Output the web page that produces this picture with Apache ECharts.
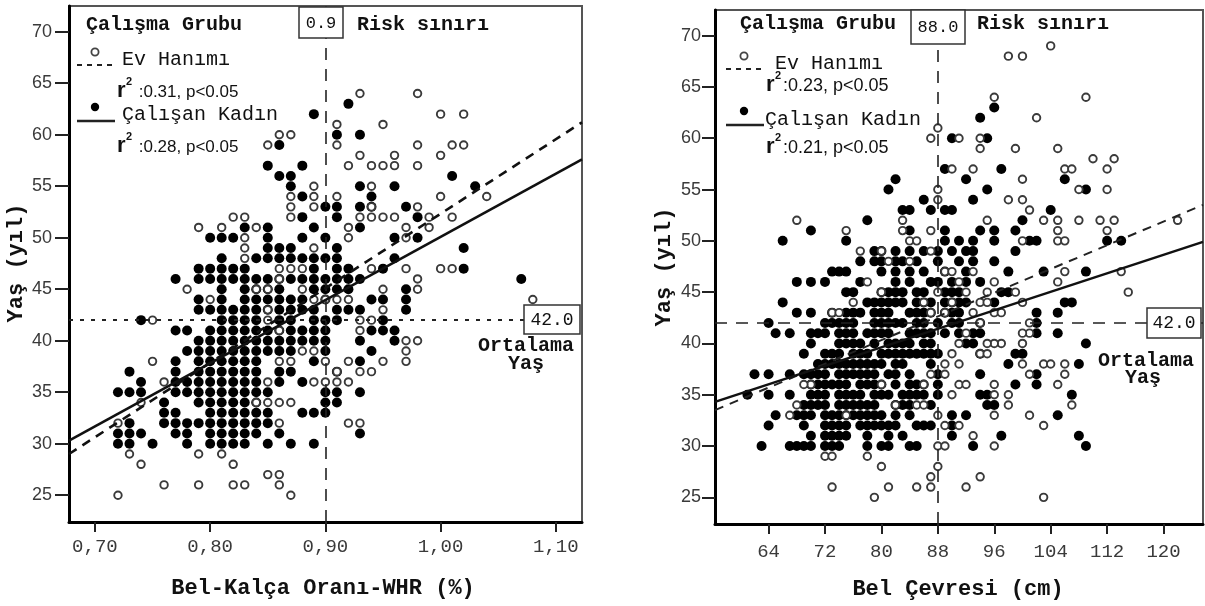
<!DOCTYPE html>
<html><head><meta charset="utf-8">
<script src="https://cdn.jsdelivr.net/npm/echarts@6/dist/echarts.min.js"></script>
<style>html,body{margin:0;padding:0;background:#fff}#c{width:1205px;height:606px}</style>
</head><body><div id="c"></div>
<script>
// ---------- DATA ----------
const whrTicks = [0.70, 0.80, 0.90, 1.00, 1.10];
const waistTicks = [64, 72, 80, 88, 96, 104, 112, 120];
const ageTicks = [25, 30, 35, 40, 45, 50, 55, 60, 65, 70];
const riskWHR = 0.9;
const riskWaist = 88.0;
const meanAge = 42.0;

// regression fits [intercept, slope]
const regWhrHousewife = [-20.0, 72.33];
const regWhrWorking = [-11.24, 61.32];
const regWaistHousewife = [17.2, 0.289];
const regWaistWorking = [21.59, 0.2254];

// Ev Hanımı (housewife) - WHR vs age
const whrHousewife = [
[0.72,25],[0.72,32],[0.73,29],[0.74,28],[0.74,34],[0.75,38],[0.75,42],[0.76,26],[0.76,36],[0.78,45],
[0.79,29],[0.79,26],[0.79,51],[0.80,44],[0.81,51],[0.81,29],[0.82,52],[0.82,28],[0.82,26],[0.83,52],
[0.83,50],[0.83,49],[0.83,48],[0.83,26],[0.84,51],[0.84,45],[0.84,34],[0.85,59],[0.85,45],[0.85,43],
[0.85,42],[0.85,36],[0.85,34],[0.85,27],[0.86,60],[0.86,47],[0.86,46],[0.86,41],[0.86,38],[0.86,34],
[0.86,32],[0.86,27],[0.86,26],[0.87,60],[0.87,54],[0.87,53],[0.87,52],[0.87,47],[0.87,38],[0.87,34],
[0.87,25],[0.88,47],[0.88,45],[0.88,39],[0.89,55],[0.89,54],[0.89,53],[0.89,49],[0.89,44],[0.89,39],
[0.89,36],[0.90,44],[0.90,38],[0.90,36],[0.91,61],[0.91,59],[0.91,54],[0.91,44],[0.91,37],[0.91,36],
[0.92,57],[0.92,51],[0.92,50],[0.92,44],[0.92,38],[0.92,36],[0.92,32],[0.93,64],[0.93,58],[0.93,52],
[0.93,42],[0.93,41],[0.93,37],[0.93,32],[0.94,57],[0.94,55],[0.94,53],[0.94,52],[0.94,47],[0.94,42],
[0.94,37],[0.95,61],[0.95,57],[0.95,52],[0.95,45],[0.95,43],[0.95,38],[0.96,58],[0.96,57],[0.96,52],
[0.97,51],[0.97,50],[0.97,47],[0.97,40],[0.97,39],[0.97,38],[0.98,64],[0.98,59],[0.98,57],[0.98,53],
[0.98,46],[0.98,45],[0.98,40],[0.99,52],[0.99,51],[1.00,62],[1.00,58],[1.00,54],[1.00,47],[1.01,52],
[1.01,47],[1.01,59],[1.02,62],[1.02,59],[1.04,54],[1.08,44]
];

// Çalışan Kadın (working) - WHR rows: [age, WHR x100 list]
const whrWorkingRows = [
[30,[72,73,75,78,80,81,82,83,85,87,89]],
[31,[72,73,74,77,78,80,81,82,83,84,86,93]],
[32,[73,76,77,78,79,80,81,82,83,84,85]],
[33,[76,77,80,81,82,83,84,85,88,89,90]],
[34,[76,79,80,81,82,83,84,90,91]],
[35,[72,73,74,77,78,79,80,81,82,83,84,85,90,91,93]],
[36,[74,77,78,79,80,81,82,83,84,86,88]],
[37,[73,77,79,80,81,82,83,84,86,87,91]],
[38,[77,79,80,81,82,83,84,89,93]],
[39,[78,79,80,81,82,83,84,85,86,87,90,94]],
[40,[79,80,81,82,83,84,85,86,87,88,89,90,93,96]],
[41,[77,78,80,81,82,83,84,85,86,87,88,89,90,94,95,96]],
[42,[74,81,82,83,84,86,87,89,90,91,95]],
[43,[79,80,81,82,83,84,85,86,87,88,89,91,92,93,97]],
[44,[79,81,83,84,85,86,87,88,90,94,95,97]],
[45,[81,83,84,85,86,89,90,91,92,97]],
[46,[77,79,80,81,82,83,84,85,86,87,88,89,90,91,92,93,107]],
[47,[79,80,81,82,83,89,91,92,95,102]],
[48,[81,84,85,86,87,88,89,90,91,96]],
[49,[85,86,87,91,102]],
[50,[80,81,82,85,88,90,96,98]],
[51,[83,85,89,93]],
[52,[88,91,98]],
[53,[90,91,93,94,97]],
[54,[88,94]],
[55,[87,93,96,103]],
[56,[86,87,101]],
[57,[85,88]],
[59,[86]],
[60,[91,93]],
[62,[89]],
[63,[92]]
];

// Ev Hanımı - waist (cm) vs age
const waistHousewife = [
[68,52],[75,51],[67,33],[68,34],[70,36],[72,29],[73,29],[73,26],[78,29],[80,28],[79,25],[81,26],
[85,26],[87,26],[87,27],[88,28],[88,30],[89,30],[88,33],[89,32],[91,32],[92,26],[94,27],[93,31],
[96,30],[96,33],[96,35],[98,34],[98,35],[101,33],[103,32],[103,25],[103,38],[104,38],[106,38],[106,37],
[105,36],[107,34],[100,38],[101,37],[100,40],[101,41],[100,41],[101,42],[100,44],[97,40],[96,40],[105,46],
[106,47],[115,45],[114,47],[122,52],[108,52],[111,52],[113,52],[112,51],[103,52],[105,52],[105,51],[105,50],
[106,50],[101,53],[98,54],[100,54],[100,50],[95,52],[96,46],[99,59],[100,56],[102,62],[98,68],[100,68],
[104,69],[96,64],[109,64],[105,59],[106,57],[107,57],[110,58],[113,58],[112,57],[112,55],[108,55],[91,60],
[93,57],[94,59],[94,60],[90,57],[87,60],[88,61],[88,55],[88,54],[87,51],[87,49],[83,52],[83,51],[84,50],
[85,50],[77,49],[78,46],[76,44],[80,49],[81,48],[80,45],[73,43],[74,43],[85,34],[86,34],[87,37],[89,37],
[91,38],[90,35],[91,36],[92,36],[92,41],[94,44],[95,44],[92,45],[91,46],[94,42],[86,44],[88,45],[87,43],
[89,43],[90,44],[93,43],[96,43],[97,43],[99,45],[95,40],[91,40],[94,39],[95,39],[84,48],[89,47],
[90,47],[93,47],[95,45],[69,36],[75,33],[82,34],[86,36],[80,36],[96,36],[90,39],[89,38]
];

// Çalışan Kadın - waist rows: [age, cm list]
const waistWorkingRows = [
[30,[63,67,68,69,70,72,73,74,78,80,81,84,85,93,109]],
[31,[70,72,73,74,75,78,81,83,90,97,108]],
[32,[64,69,72,73,74,75,77,78,79,80,81,82,85,86,87,90]],
[33,[65,68,69,70,72,73,74,75,76,77,78,79,80,82,84,90,92,105]],
[34,[69,70,71,72,74,75,76,77,78,79,82,83,84,87,95,96]],
[35,[61,64,67,70,71,72,74,75,76,77,79,80,81,83,84,85,86,88,94,95,107]],
[36,[70,71,72,73,74,75,77,78,79,80,82,84,85,86,88,99,102]],
[37,[62,64,67,69,70,71,72,74,75,76,77,78,79,81,82,84,88,94,102]],
[38,[71,72,73,74,75,76,77,78,79,80,82,83,87,98,108]],
[39,[69,72,73,74,76,77,78,80,81,82,83,84,85,86,87,88,94,99,100]],
[40,[70,74,75,76,77,79,81,82,83,84,86,87,92,93,109]],
[41,[65,67,70,71,72,74,75,76,78,79,80,81,84,85,86,87,89,91,93,94,102,105]],
[42,[64,72,73,74,75,76,79,80,81,82,83,85,86,88,90,91,94,102]],
[43,[68,70,73,75,76,77,79,80,81,84,85,86,87,89,90,91,102,105]],
[44,[66,78,79,80,81,82,83,85,86,87,89,90,91,92,96,106,107]],
[45,[75,76,80,81,82,83,85,86,89,90,91,97,98]],
[46,[68,70,72,77,82,84,87,88,90,92,94]],
[47,[73,74,75,80,82,84,86,89,92,98,103,109]],
[48,[77,79,80,82,83,85,88,91,93,96]],
[49,[79,80,82,84,86,88,90,92,93,99]],
[50,[66,75,89,91,93,96,101,102,112,114]],
[51,[70,84,89,94,96,99]],
[52,[78,100]],
[53,[83,84,87,89,90,104]],
[54,[86,93]],
[55,[81,95,109]],
[56,[82,92,106]],
[57,[89,97]],
[60,[90,95]],
[62,[94]],
[63,[96]]
];

// ---------- BUILD ----------
function expandRows(rows, scale) {
  const out = [];
  rows.forEach(([age, xs]) => xs.forEach(x => out.push([x / scale, age])));
  return out;
}
function regLine(reg, a, b) { return [[a, reg[0] + reg[1] * a], [b, reg[0] + reg[1] * b]]; }

const X1 = [0.6775, 1.1227], X2 = [56.4, 125.6], Y = [22.4, 72.5];
const MONO = '"Liberation Mono","DejaVu Sans Mono",monospace';
const SANS = '"Liberation Sans",Arial,sans-serif';

function yAxisDef(gi, margin, tickLen) {
  return {
    type: 'value', gridIndex: gi, min: Y[0], max: Y[1],
    axisLine: { show: true, lineStyle: { color: '#000', width: 3 } },
    axisTick: { show: true, customValues: ageTicks, length: tickLen, lineStyle: { color: '#222', width: 2 } },
    axisLabel: { customValues: ageTicks, margin: margin, fontFamily: SANS, fontSize: 18, color: '#3a3a3a' },
    splitLine: { show: false }
  };
}
function xAxisDef(gi, range, ticks, fmt, margin) {
  return {
    type: 'value', gridIndex: gi, min: range[0], max: range[1],
    axisLine: { show: true, onZero: false, lineStyle: { color: '#000', width: 3 } },
    axisTick: { show: true, customValues: ticks, length: 10, lineStyle: { color: '#222', width: 2 } },
    axisLabel: { customValues: ticks, margin: margin, fontFamily: MONO, fontSize: 19, color: '#3a3a3a', formatter: fmt },
    splitLine: { show: false }
  };
}

const openStyle = { color: '#fff', borderColor: '#3a3a3a', borderWidth: 1.9, opacity: 1 };
const filledStyle = { color: '#000', opacity: 1 };

function markLines(xv, xDash, yDash, yWidth) {
  return {
    silent: true, symbol: ['none', 'none'], label: { show: false }, animation: false,
    data: [
      { xAxis: xv, lineStyle: { type: xDash, color: '#222', width: 1.6 } },
      { yAxis: meanAge, lineStyle: { type: yDash, color: '#222', width: yWidth } }
    ]
  };
}

const series = [
  { type: 'scatter', xAxisIndex: 0, yAxisIndex: 0, z: 2, symbolSize: 10, itemStyle: filledStyle,
    data: expandRows(whrWorkingRows, 100), markLine: markLines(riskWHR, [12, 9], [4, 7], 2) },
  { type: 'scatter', xAxisIndex: 0, yAxisIndex: 0, z: 3, symbolSize: 7.5, itemStyle: openStyle, data: whrHousewife },
  { type: 'line', xAxisIndex: 0, yAxisIndex: 0, z: 5, symbol: 'none', data: regLine(regWhrHousewife, X1[0], X1[1]),
    lineStyle: { color: '#111', width: 2.6, type: [9, 7] } },
  { type: 'line', xAxisIndex: 0, yAxisIndex: 0, z: 5, symbol: 'none', data: regLine(regWhrWorking, X1[0], X1[1]),
    lineStyle: { color: '#111', width: 2.6 } },
  { type: 'scatter', xAxisIndex: 1, yAxisIndex: 1, z: 2, symbolSize: 10, itemStyle: filledStyle,
    data: expandRows(waistWorkingRows, 1), markLine: markLines(riskWaist, [12, 9], [12, 9], 1.6) },
  { type: 'scatter', xAxisIndex: 1, yAxisIndex: 1, z: 3, symbolSize: 7.5, itemStyle: openStyle, data: waistHousewife },
  { type: 'line', xAxisIndex: 1, yAxisIndex: 1, z: 5, symbol: 'none', data: regLine(regWaistHousewife, X2[0], X2[1]),
    lineStyle: { color: '#222', width: 2, type: [9, 7] } },
  { type: 'line', xAxisIndex: 1, yAxisIndex: 1, z: 5, symbol: 'none', data: regLine(regWaistWorking, X2[0], X2[1]),
    lineStyle: { color: '#111', width: 2.6 } }
];

function txt(text, x, y, font, align, extra) {
  return Object.assign({ type: 'text', z: 100, style: { text: text, x: x, y: y, font: font, fill: '#111', align: align || 'left', verticalAlign: 'middle' } }, extra || {});
}
function box(x, y, w, h) {
  return { type: 'rect', z: 99, shape: { x: x, y: y, width: w, height: h }, style: { fill: '#fff', stroke: '#333', lineWidth: 1.5 } };
}
function legendBlock(ox, oy) {
  return [
    { type: 'circle', z: 100, shape: { cx: ox + 18, cy: oy - 7, r: 3.6 }, style: { fill: '#fff', stroke: '#444', lineWidth: 1.8 } },
    { type: 'line', z: 100, shape: { x1: ox, y1: oy + 6, x2: ox + 36, y2: oy + 6 }, style: { stroke: '#222', lineWidth: 2, lineDash: [5, 5] } },
    { type: 'circle', z: 100, shape: { cx: ox + 18, cy: oy + 48, r: 4.2 }, style: { fill: '#000' } },
    { type: 'line', z: 100, shape: { x1: ox, y1: oy + 62, x2: ox + 38, y2: oy + 62 }, style: { stroke: '#222', lineWidth: 2.5 } }
  ];
}
function rsq(x, y, rest, size) {
  return [
    txt('r', x, y, 'bold 22px ' + SANS),
    txt('2', x + 9, y - 9, 'bold 11px ' + SANS),
    txt(rest, x + 17, y + 1, size + 'px ' + SANS)
  ];
}

const graphic = [
  // ----- left chart -----
  txt('Çalışma Grubu', 86, 25, 'bold 20px ' + MONO),
  box(299, 7, 44, 31), txt('0.9', 321, 23, '17px ' + MONO, 'center'),
  txt('Risk sınırı', 357, 25, 'bold 20px ' + MONO),
  ...legendBlock(77, 59),
  txt('Ev Hanımı', 122, 60, '20px ' + MONO),
  ...rsq(117, 91, ' :0.31, p<0.05', 17),
  txt('Çalışan Kadın', 122, 115, '20px ' + MONO),
  ...rsq(117, 146, ' :0.28, p<0.05', 17),
  box(524, 305, 56, 29), txt('42.0', 552, 320, '18px ' + MONO, 'center'),
  txt('Ortalama', 526, 346, 'bold 20px ' + MONO, 'center'),
  txt('Yaş', 526, 364, 'bold 20px ' + MONO, 'center'),
  txt('Bel-Kalça Oranı-WHR (%)', 323, 588, 'bold 22px ' + MONO, 'center'),
  txt('Yaş (yıl)', 16, 263, 'bold 22px ' + MONO, 'center', { rotation: Math.PI / 2, x: 0, y: 0, originX: 16, originY: 263 }),
  // ----- right chart -----
  txt('Çalışma Grubu', 740, 24, 'bold 20px ' + MONO),
  box(911, 10, 54, 34), txt('88.0', 938, 27, '17px ' + MONO, 'center'),
  txt('Risk sınırı', 977, 24, 'bold 20px ' + MONO),
  ...legendBlock(726, 63),
  txt('Ev Hanımı', 775, 64, '20px ' + MONO),
  ...rsq(766, 85, ':0.23, p<0.05', 18),
  txt('Çalışan Kadın', 765, 120, '20px ' + MONO),
  ...rsq(766, 147, ':0.21, p<0.05', 18),
  box(1147, 308, 54, 30), txt('42.0', 1174, 323, '18px ' + MONO, 'center'),
  txt('Ortalama', 1146, 361, 'bold 20px ' + MONO, 'center'),
  txt('Yaş', 1143, 378, 'bold 20px ' + MONO, 'center'),
  txt('Bel Çevresi (cm)', 958, 589, 'bold 22px ' + MONO, 'center'),
  txt('Yaş (yıl)', 664, 267, 'bold 22px ' + MONO, 'center', { rotation: Math.PI / 2, x: 0, y: 0, originX: 664, originY: 267 })
];

const option = {
  animation: false,
  backgroundColor: '#fff',
  grid: [
    { left: 69, top: 6, width: 513, height: 516, show: true, borderColor: '#555', borderWidth: 2, backgroundColor: '#fff' },
    { left: 715, top: 10, width: 488, height: 514, show: true, borderColor: '#555', borderWidth: 2, backgroundColor: '#fff' }
  ],
  xAxis: [
    xAxisDef(0, X1, whrTicks, v => v.toFixed(2).replace('.', ','), 15),
    xAxisDef(1, X2, waistTicks, v => String(Math.round(v)), 18)
  ],
  yAxis: [yAxisDef(0, 17, 14), yAxisDef(1, 14, 13)],
  series: series,
  graphic: graphic
};

const chart = echarts.init(document.getElementById('c'), null, { renderer: 'canvas' });
chart.setOption(option);
</script></body></html>
